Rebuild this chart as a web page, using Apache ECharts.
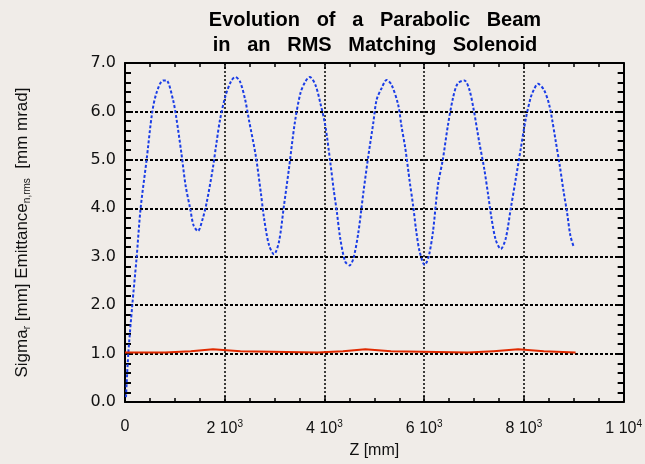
<!DOCTYPE html>
<html>
<head>
<meta charset="utf-8">
<script src="https://cdn.jsdelivr.net/npm/echarts@6/dist/echarts.min.js"></script>
<style>
html,body{margin:0;padding:0;background:#f0ece8;}
#chart{width:645px;height:464px;}
</style>
</head>
<body>
<div id="chart"></div>
<script>
// Blue: Sigma_r [mm]
const blueX = [20, 66, 146, 232, 312, 431, 544, 631, 763, 830, 963, 1029, 1129, 1215, 1308, 1374, 1461, 1560, 1640, 1759, 1826, 1906, 2012, 2125, 2211, 2305, 2410, 2490, 2623, 2723, 2789, 2888, 2988, 3088, 3187, 3287, 3406, 3519, 3619, 3705, 3818, 3918, 4018, 4117, 4183, 4249, 4316, 4416, 4502, 4582, 4681, 4781, 4880, 4980, 5046, 5146, 5245, 5345, 5478, 5544, 5624, 5711, 5777, 5843, 5910, 6010, 6089, 6175, 6275, 6374, 6474, 6574, 6673, 6806, 6906, 6992, 7105, 7205, 7285, 7351, 7437, 7537, 7636, 7735, 7835, 7935, 8034, 8134, 8200, 8280, 8399, 8499, 8566, 8632, 8719, 8798, 8864, 8931, 8997];
const blueY = [0.1, 1.0, 2.0, 2.97, 3.99, 4.98, 5.97, 6.38, 6.64, 6.64, 6.24, 5.87, 5.15, 4.47, 3.99, 3.65, 3.53, 3.79, 4.13, 4.81, 5.29, 5.83, 6.31, 6.62, 6.71, 6.62, 6.24, 5.80, 5.08, 4.33, 3.79, 3.24, 3.05, 3.31, 4.05, 4.81, 5.77, 6.38, 6.62, 6.71, 6.55, 6.17, 5.70, 4.95, 4.40, 3.92, 3.38, 2.90, 2.82, 2.97, 3.51, 4.33, 5.08, 5.77, 6.24, 6.48, 6.65, 6.55, 6.14, 5.70, 5.22, 4.54, 4.06, 3.51, 3.10, 2.83, 3.00, 3.51, 4.47, 5.01, 5.70, 6.26, 6.58, 6.64, 6.45, 6.04, 5.36, 4.81, 4.26, 3.79, 3.34, 3.16, 3.38, 3.99, 4.60, 5.22, 5.83, 6.28, 6.45, 6.57, 6.45, 6.17, 5.83, 5.42, 4.88, 4.33, 3.92, 3.44, 3.21];
// Red: Emittance n,rms [mm mrad] (value holds from each x to the next)
const redX = [0, 805, 1321, 1765, 2315, 3859, 4373, 4819, 5333, 6877, 7390, 7884, 8399, 9036];
const redY = [1.02, 1.05, 1.09, 1.05, 1.02, 1.05, 1.09, 1.05, 1.02, 1.05, 1.09, 1.05, 1.02, 1.02];
// Tick labels
const xTickLabels = ['0', '2 10{sup|3}', '4 10{sup|3}', '6 10{sup|3}', '8 10{sup|3}', '1 10{sup|4}'];
const yTickLabels = ['0.0', '1.0', '2.0', '3.0', '4.0', '5.0', '6.0', '7.0'];

const chart = echarts.init(document.getElementById('chart'));
const labelFont = 'Liberation Sans';
const blueData = blueX.map((x, i) => [x, blueY[i]]);
const redData = [];
redX.forEach((x, i) => {
  if (i > 0) redData.push([x, redY[i - 1]]);
  redData.push([x, redY[i]]);
});

const gridLine = (w, dash) => ({ show: true, lineStyle: { color: '#000', width: w, type: dash } });

chart.setOption({
  backgroundColor: '#f0ece8',
  animation: false,
  grid: { left: 125, right: 19, top: 63, bottom: 59 },
  graphic: [
    { type: 'text', x: 375, y: 10, style: { text: 'Evolution   of   a   Parabolic   Beam', font: 'bold 20px "Liberation Sans"', fill: '#000', align: 'center' } },
    { type: 'text', x: 375, y: 35, style: { text: 'in   an   RMS   Matching   Solenoid', font: 'bold 20px "Liberation Sans"', fill: '#000', align: 'center' } }
  ],
  xAxis: [{
    type: 'value', min: 0, max: 10000, interval: 2000,
    name: 'Z [mm]', nameLocation: 'middle', nameGap: 41,
    nameTextStyle: { fontFamily: labelFont, fontSize: 16, color: '#111' },
    axisLine: { show: true, onZero: false, lineStyle: { color: '#000', width: 2 } },
    axisTick: { show: true, inside: true, length: 6, lineStyle: { color: '#000', width: 1.5 } },
    minorTick: { show: true, splitNumber: 4, length: 4, lineStyle: { color: '#000', width: 1.5 } },
    splitLine: gridLine(1.5, [2, 2]),
    axisLabel: {
      margin: 17, fontFamily: labelFont, fontSize: 16, color: '#111',
      formatter: v => xTickLabels[Math.round(v / 2000)],
      rich: { sup: { fontSize: 10, verticalAlign: 'top', padding: [0, 0, 9, 0], fontFamily: labelFont, color: '#111' } }
    }
  }, {
    type: 'value', min: 0, max: 10000, interval: 2000, position: 'top',
    axisLine: { show: true, onZero: false, lineStyle: { color: '#000', width: 2 } },
    axisTick: { show: true, inside: true, length: 6, lineStyle: { color: '#000', width: 1.5 } },
    minorTick: { show: true, splitNumber: 4, length: 4, lineStyle: { color: '#000', width: 1.5 } },
    splitLine: { show: false }, axisLabel: { show: false }
  }],
  yAxis: [{
    type: 'value', min: 0, max: 7, interval: 1,
    name: 'Sigma{sub|r} [mm] Emittance{sub|n,rms}  [mm mrad]',
    nameLocation: 'middle', nameRotate: 90, nameGap: 93,
    nameTextStyle: {
      fontFamily: labelFont, fontSize: 17, color: '#111',
      rich: { sub: { fontSize: 10, verticalAlign: 'bottom', padding: [10, 0, 0, 0], fontFamily: labelFont, color: '#111' } }
    },
    axisLine: { show: true, onZero: false, lineStyle: { color: '#000', width: 2 } },
    axisTick: { show: true, inside: true, length: 7, lineStyle: { color: '#000', width: 2 } },
    minorTick: { show: true, splitNumber: 5, length: 6, lineStyle: { color: '#000', width: 2 } },
    splitLine: gridLine(2, [3, 2]),
    axisLabel: {
      margin: 9, fontFamily: 'DejaVu Sans', fontSize: 16, color: '#111',
      formatter: v => yTickLabels[Math.round(v)]
    }
  }, {
    type: 'value', min: 0, max: 7, interval: 1, position: 'right',
    axisLine: { show: true, onZero: false, lineStyle: { color: '#000', width: 2 } },
    axisTick: { show: true, inside: true, length: 7, lineStyle: { color: '#000', width: 2 } },
    minorTick: { show: true, splitNumber: 5, length: 6, lineStyle: { color: '#000', width: 2 } },
    splitLine: { show: false }, axisLabel: { show: false }
  }],
  series: [{
    type: 'line', name: 'Sigma_r', data: blueData, showSymbol: false, smooth: 0.3,
    lineStyle: { color: '#1a3de6', width: 2, type: [3, 2] }, z: 3
  }, {
    type: 'line', name: 'Emittance', data: redData, showSymbol: false,
    lineStyle: { color: '#e02a00', width: 2, cap: 'butt', join: 'miter' }, z: 4
  }]
});
</script>
</body>
</html>
